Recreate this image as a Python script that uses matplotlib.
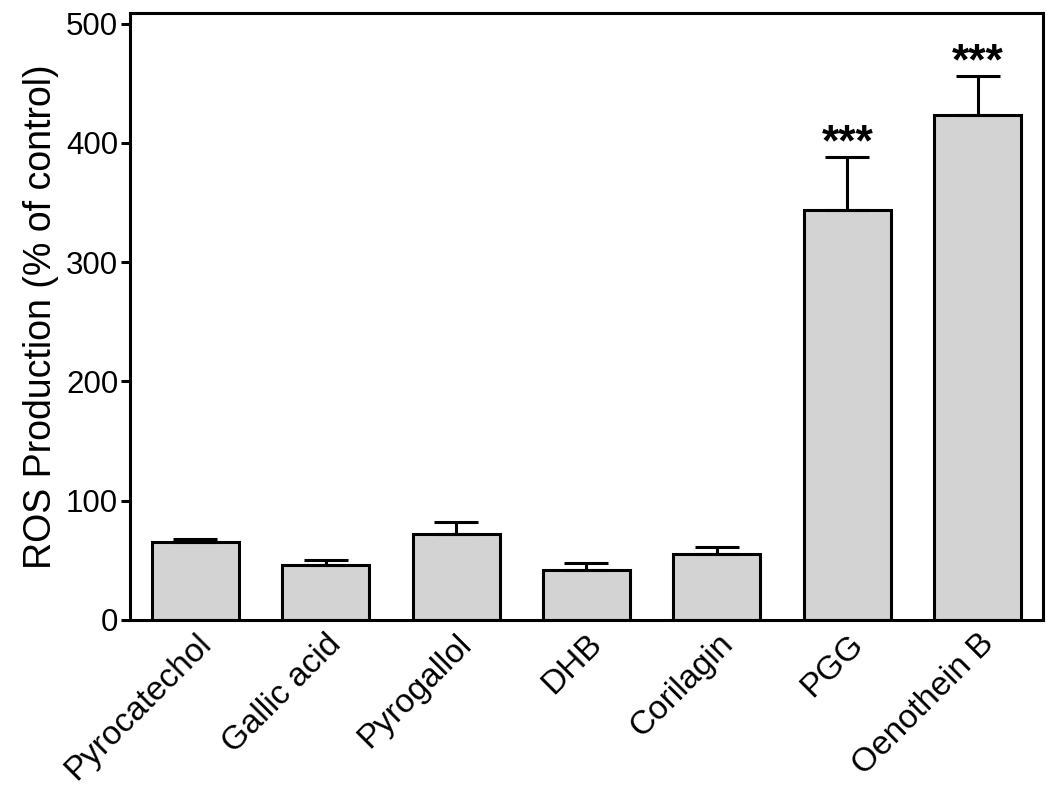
import matplotlib
matplotlib.use("Agg")
import numpy as np
import matplotlib.pyplot as plt

plt.rcParams['font.family'] = ['Liberation Sans', 'DejaVu Sans']

compounds = ['Pyrocatechol', 'Gallic acid', 'Pyrogallol', 'DHB', 'Corilagin', 'PGG', 'Oenothein B']
ros_mean = [65, 46, 72.5, 42, 55.5, 344, 423.5]
ros_sem = [3, 4, 9.5, 6, 6, 44, 32.5]
signif = ['', '', '', '', '', '***', '***']

fig = plt.figure(figsize=(10.5, 7.97), dpi=100)
ax = fig.add_axes([0.1238, 0.2221, 0.8695, 0.7616])

x = np.arange(len(compounds))
ax.bar(x, ros_mean, width=0.667, color='#d3d3d3', edgecolor='black', linewidth=2.2,
       yerr=[np.zeros(len(ros_sem)), ros_sem],
       error_kw=dict(ecolor='black', elinewidth=2.2, capsize=16, capthick=2.2), zorder=2)

for xi, m, s, lab in zip(x, ros_mean, ros_sem, signif):
    if lab:
        ax.annotate(lab, (xi, m + s), xytext=(0, 1), textcoords='offset points',
                    ha='center', va='baseline', fontsize=32, fontweight='bold')

ax.set_xlim(-0.5, len(compounds) - 0.5)
ax.set_ylim(0, 509)
ax.set_yticks([0, 100, 200, 300, 400, 500])
ax.set_xticks(x)
ax.set_xticklabels(compounds, rotation=45, ha='right', va='top', rotation_mode='anchor', fontsize=24)
ax.tick_params(axis='y', labelsize=22.5, length=6.5, width=2.2, direction='out', pad=2)
ax.tick_params(axis='x', length=0, pad=6)
ax.set_ylabel('ROS Production (% of control)', fontsize=27, labelpad=5)
for sp in ax.spines.values():
    sp.set_linewidth(2.2)

fig.savefig('out.png', dpi=100)
